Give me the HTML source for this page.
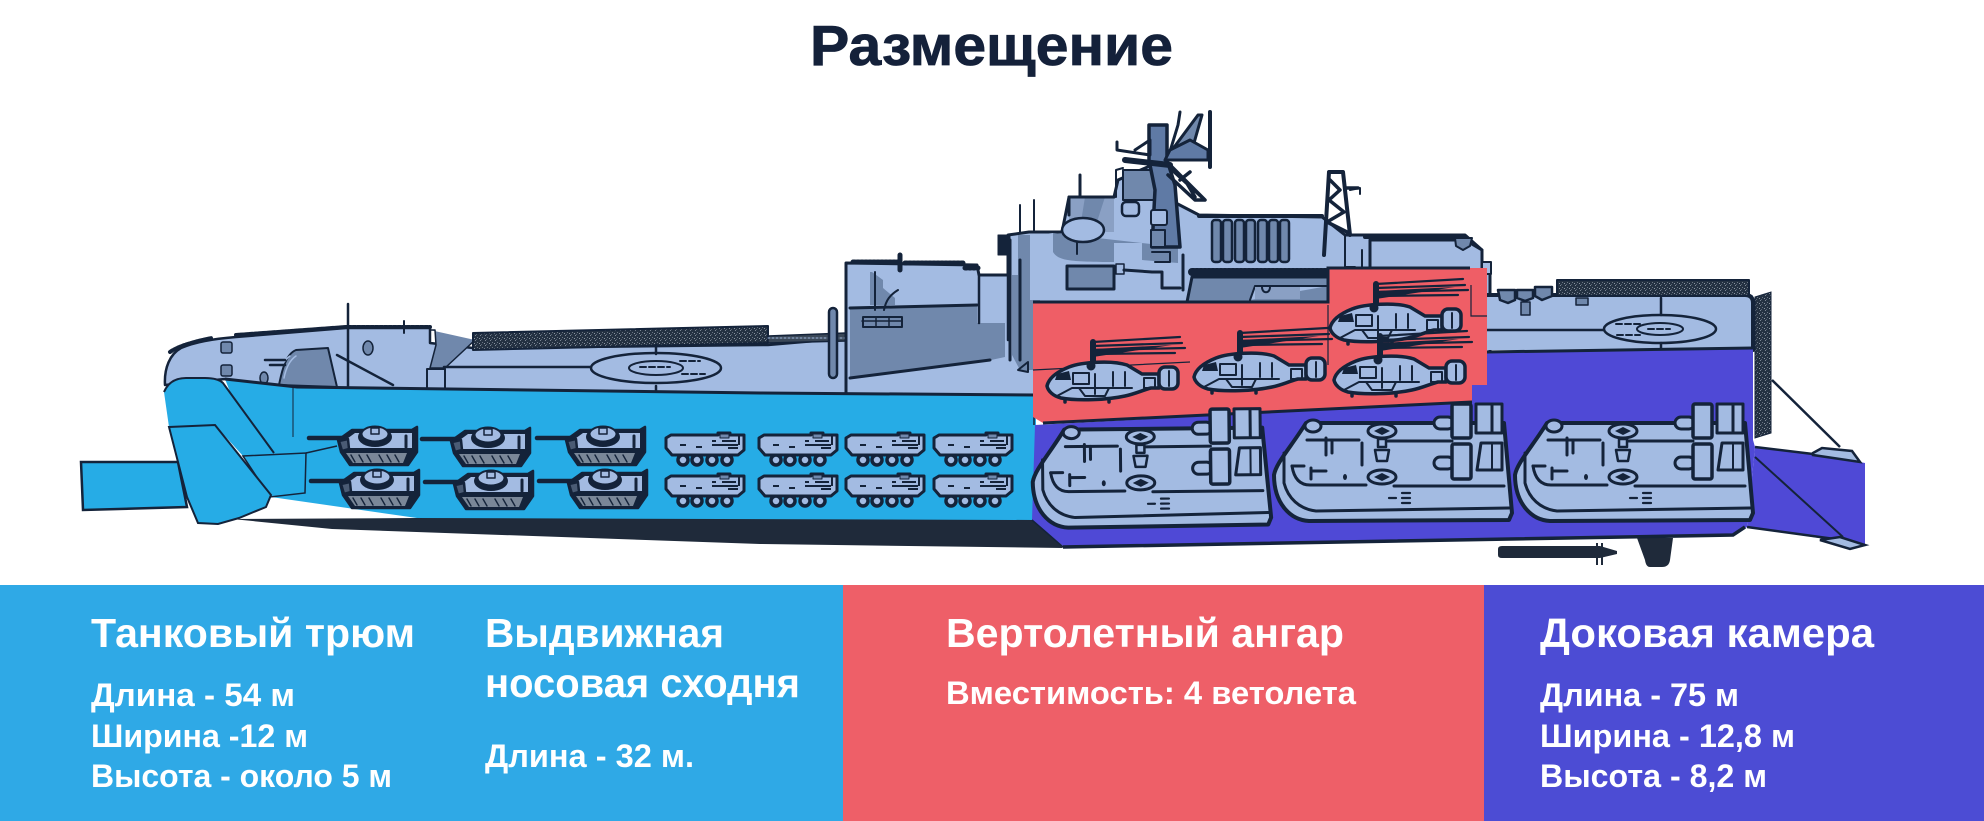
<!DOCTYPE html>
<html><head><meta charset="utf-8"><title>Размещение</title>
<style>html,body{margin:0;padding:0;background:#fff}svg{display:block}text{font-family:"Liberation Sans","Noto Sans CJK SC",sans-serif;font-weight:700}</style></head>
<body>
<svg width="1984" height="821" viewBox="0 0 1984 821" xmlns="http://www.w3.org/2000/svg">
<defs>
<pattern id="net" width="5" height="5" patternUnits="userSpaceOnUse">
 <rect width="5" height="5" fill="#243142"/>
 <rect x="0" y="0" width="1" height="1" fill="#7c8794"/><rect x="2" y="2" width="1" height="1" fill="#6a7583"/><rect x="4" y="3" width="1" height="1" fill="#8a95a2"/><rect x="1" y="4" width="1" height="1" fill="#566272"/>
</pattern>
<symbol id="tank" overflow="visible">
 <g stroke="#14233a" stroke-linejoin="round" stroke-linecap="round">
 <path d="M0 12H34" stroke-width="4.5" fill="none"/>
 <path d="M29 14L43 4H103L108 1V26L99 39H41L32 26Z" fill="#14233a" stroke-width="2.5"/>
 <path d="M35 15L46 7H103V22H40Z" fill="#a3bbe2" stroke="none"/>
 <path d="M37 27H98L94 37H44Z" fill="#7a8798" stroke="none"/>
 <path d="M42 29L46 36M50 29L54 36M58 29L62 36M70 29L74 36M78 29L82 36M86 29L90 36" stroke="#14233a" stroke-width="1.4"/>
 <ellipse cx="66" cy="11" rx="17" ry="10" fill="#14233a" stroke="none"/>
 <ellipse cx="66" cy="8" rx="13.5" ry="7.5" fill="#a3bbe2" stroke="#14233a" stroke-width="2"/>
 <rect x="62" y="2" width="8" height="6" fill="#a3bbe2" stroke-width="1.5"/>
 <path d="M97 10V21" stroke-width="3"/>
 <path d="M30 15L39 13L40 23L33 25Z" fill="#4a5b74" stroke-width="2.5"/>
 </g>
</symbol>
<symbol id="apc" overflow="visible">
 <g stroke="#14233a" stroke-linejoin="round">
 <circle cx="17" cy="27" r="5" fill="#a3bbe2" stroke-width="3.5"/><circle cx="31" cy="27" r="5" fill="#a3bbe2" stroke-width="3.5"/><circle cx="46" cy="27" r="5" fill="#a3bbe2" stroke-width="3.5"/><circle cx="61" cy="27" r="5" fill="#a3bbe2" stroke-width="3.5"/>
 <path d="M0 5L5 2H52V0H64V2H78V17L72 22H6L0 15Z" fill="#a3bbe2" stroke-width="3"/>
 <path d="M54 1H63V5H54Z" fill="#7088ac" stroke-width="1"/>
 <path d="M14 12H20M30 14H36M46 8H50M46 12H72M56 8H70M62 15H72M73 3V12" stroke-width="2" fill="none"/>
 </g>
</symbol>
<symbol id="heli" overflow="visible">
 <g stroke="#14233a" stroke-linejoin="round" stroke-linecap="round">
 <path d="M46 6L133 1M46 10L135 7M46 14L138 12M46 18L128 17" stroke-width="2.2" fill="none"/>
 <path d="M46 13L125 9L46 21Z" fill="#14233a" stroke="none"/>
 <path d="M46 6V28" stroke-width="6"/>
 <path d="M18 61V66M62 61V66" stroke-width="3.5"/>
 <path d="M0 50C2 41 12 35 22 31C35 26 65 24 80 29L95 38H112V52H104C96 54 88 58 78 60C60 64 30 65 14 62C6 60 1 55 0 50Z" fill="#a3bbe2" stroke-width="3.5"/>
 <rect x="112" y="31" width="19" height="22" rx="6" fill="#a3bbe2" stroke-width="3.5"/>
 <circle cx="44" cy="30" r="4.5" fill="#14233a" stroke="none"/>
 <path d="M10 38L22 35L24 44H8Z" fill="#14233a" stroke="none"/>
 <path d="M26 37H42V48H26ZM66 36V50M78 36V50M48 38V58M97 42H108V52H97ZM10 60L25 52H85M32 52L38 60H58L62 52M122 35V50" fill="none" stroke-width="2"/>
 </g>
</symbol>
<symbol id="hover" overflow="visible">
 <g stroke="#14233a" stroke-linejoin="round" stroke-linecap="round">
 <path d="M0 72C2 60 17 44 32 20H230L238 110L235 117L35 118C16 117 0 100 0 72Z" fill="#a3bbe2" stroke-width="4"/>
 <path d="M10 50V80C14 95 25 106 42 108L235 105" fill="none" stroke-width="3"/>
 <path d="M18 63C20 76 26 82 36 82H92M120 83H230" fill="none" stroke-width="3"/>
 <path d="M33 37H85M113 38H178" fill="none" stroke-width="3"/>
 <path d="M52 35V52M58 37V50M88 40V62" fill="none" stroke-width="3"/>
 <path d="M18 63H30M37 65V76M37 68H52" fill="none" stroke-width="3"/>
 <ellipse cx="39" cy="23" rx="8" ry="6" fill="#a3bbe2" stroke-width="3"/>
 <ellipse cx="108" cy="28" rx="14" ry="7" fill="#a3bbe2" stroke-width="3"/><path d="M100 28L108 24L116 28L108 32Z" fill="#14233a" stroke="none"/>
 <ellipse cx="108" cy="74" rx="14" ry="7" fill="#a3bbe2" stroke-width="3"/><path d="M100 74L108 70L116 74L108 78Z" fill="#14233a" stroke="none"/>
 <path d="M101 47H115L113 58H103ZM104 36H112V44H104Z" fill="#a3bbe2" stroke-width="2.5"/>
 <ellipse cx="71" cy="74" rx="2" ry="3" fill="#14233a" stroke="none"/>
 <path d="M115 95H122M128 90H136M128 95H136M128 100H136" fill="none" stroke-width="2.2"/>
 <rect x="160" y="14" width="20" height="12" rx="6" fill="#a3bbe2" stroke-width="3"/>
 <rect x="160" y="54" width="20" height="12" rx="6" fill="#a3bbe2" stroke-width="3"/>
 <rect x="178" y="1" width="19" height="34" rx="2" fill="#a3bbe2" stroke-width="3.5"/>
 <rect x="178" y="41" width="19" height="35" rx="2" fill="#a3bbe2" stroke-width="3.5"/>
 <path d="M202 1H228V30H202ZM218 1V30" fill="#a3bbe2" stroke-width="3"/>
 <path d="M203 67L207 40H228V67Z" fill="#a3bbe2" stroke-width="3"/>
 <path d="M218 40V67" fill="none" stroke-width="2"/>
 </g>
</symbol>
</defs>

<rect width="1984" height="821" fill="#fff"/>
<text x="810" y="65" font-size="57" fill="#14213a" stroke="#14213a" stroke-width="0.8" textLength="363" lengthAdjust="spacingAndGlyphs">Размещение</text>

<g stroke="#14233a" stroke-linejoin="round" stroke-linecap="round">
 <!-- bow deck -->
 <path d="M165 385C164 368 170 354 181 348C195 342 212 339 236 337L346 328H430V343L473 348L768 345L850 338V395H337L225 379Z" fill="#a3bbe2" stroke-width="2.5"/>
 <path d="M170 352C178 346 196 341 212 338M236 335L346 327H430" fill="none" stroke-width="4" stroke-dasharray="3 1.5"/>
 <path d="M279 385C282 370 286 354 296 350L328 348L337 387Z" fill="#7088ac" stroke-width="2"/>
 <path d="M348 304V387" stroke-width="2.5"/>
 <path d="M337 355L393 385" stroke-width="2.5"/>
 <path d="M290 356C284 360 280 368 278 378M296 356C290 360 286 368 284 378" fill="none" stroke="#a3bbe2" stroke-width="1.5"/>
 <path d="M265 360H285M270 365H285" stroke-width="2.5"/>
 <rect x="221" y="342" width="11" height="11" rx="2" fill="#7088ac" stroke-width="1.5"/>
 <rect x="221" y="365" width="11" height="11" rx="2" fill="#7088ac" stroke-width="1.5"/>
 <ellipse cx="368" cy="348" rx="5" ry="7" fill="#7088ac" stroke-width="1.5"/>
 <ellipse cx="264" cy="378" rx="4" ry="6" fill="#7088ac" stroke-width="1.5"/>
 <path d="M404 321V333" stroke-width="2"/>
 <rect x="427" y="369" width="18" height="20" fill="#a3bbe2" stroke-width="2"/>
 <path d="M430 330H435L436 345L430 368H445L475 340" fill="#7088ac" stroke-width="1.5"/>
 <!-- flight deck net -->
 <path d="M473 333L768 326V343L473 350Z" fill="url(#net)" stroke-width="2"/>
 <path d="M768 336L846 333V341L768 343Z" fill="#3a4757" stroke-width="1.5"/>
 <path d="M768 338H846" stroke="#a3bbe2" stroke-width="1" stroke-dasharray="2 2"/>
 <path d="M444 367H591M656 345V354M656 386V394" stroke-width="2.5"/>
 <ellipse cx="656" cy="368" rx="65" ry="15" fill="none" stroke-width="2.5"/>
 <ellipse cx="656" cy="368" rx="27" ry="7" fill="none" stroke-width="2"/>
 <path d="M640 367H670M680 361H700M682 374H705" stroke-width="2" stroke-dasharray="6 3"/>
 <rect x="829" y="308" width="8" height="70" rx="4" fill="#7088ac" stroke-width="2.5"/>

 <!-- superstructure base -->
 <path d="M846 263L977 265L979 275H1008V235L1029 232H1062L1069 197H1114L1118 180L1152 165L1170 200L1199 215L1322 217L1345 235H1465L1482 250V272H1490V395H846Z" fill="#a3bbe2" stroke-width="3"/>
 <path d="M850 308L977 305V323H1005V357L991 360L850 378Z" fill="#7088ac" stroke="none"/>
 <path d="M850 308L977 305M850 378L990 360" fill="none" stroke-width="3"/>
 <path d="M860 272H872L883 280V288L895 298V305H870V272Z" fill="#7088ac" stroke="none"/>
 <path d="M875 272V310M898 290C890 295 886 300 884 310" fill="none" stroke-width="2"/>
 <rect x="863" y="317" width="39" height="10" fill="#7088ac" stroke-width="2"/>
 <path d="M862 321H902M876 317V327M889 317V327" stroke-width="1.5"/>
 <path d="M853 262H900M905 263H965M965 268H978" stroke-width="5" stroke-dasharray="2 2"/>
 <path d="M900 255V270" stroke-width="5"/>
 <path d="M979 275V323M1008 275V340" fill="none" stroke-width="2.5"/>
 <path d="M998 235H1010V255H998Z" fill="#14233a"/>
 <path d="M1018 235H1030V300H1040V370H1020L1012 355V275H1018Z" fill="#7088ac" stroke="none"/>
 <path d="M1010 240V360M1020 260V360" stroke-width="3"/>
 <path d="M1018 370L1028 362V372Z" fill="#7088ac" stroke-width="2"/>
 <path d="M1034 200V232M1020 205V232" stroke-width="2"/>
 <path d="M1053 233V253L1067 262H1114V243H1142L1178 247L1182 267H1152L1150 287H1187V300H1035V235Z" fill="#a3bbe2" stroke="none"/>
 <path d="M1053 233V252C1058 260 1067 262 1114 262V243H1142V260L1178 263V247Z" fill="#7088ac" stroke="none"/>
 <path d="M1069 197H1114V232H1069Z" fill="#8aa0c4" stroke="none"/>
 <path d="M1085 197H1105L1095 228H1080Z" fill="#7088ac" stroke="none"/>
 <ellipse cx="1083" cy="230" rx="21" ry="12" fill="#a3bbe2" stroke-width="2.5"/>
 <path d="M1069 197H1114M1069 197V215M1080 175V197" fill="none" stroke-width="3"/>
 <path d="M1077 242V254" stroke-width="2"/>
 <rect x="1067" y="266" width="47" height="23" fill="#7088ac" stroke-width="3"/>
 <rect x="1116" y="264" width="8" height="10" fill="#a3bbe2" stroke-width="1.5"/>
 <path d="M1124 270L1152 272M1152 272H1162V288H1180M1183 255V290" fill="none" stroke-width="3"/>
 <rect x="1123" y="170" width="36" height="30" fill="#7088ac" stroke-width="2"/>
 <path d="M1116 197V170L1123 168" fill="none" stroke-width="2"/>
 <path d="M1149 125H1167V160L1175 185L1180 247H1152L1155 190L1149 160Z" fill="#5f7aa5" stroke-width="3.5"/>
 <path d="M1125 160L1170 165" stroke-width="6"/>
 <path d="M1117 142V150L1150 155L1150 140L1135 150" fill="none" stroke-width="3"/>
 <path d="M1168 158L1178 125L1180 112M1172 150L1198 115L1202 115L1192 150Z" fill="#7088ac" stroke-width="3"/>
 <path d="M1210 112V167" stroke-width="4"/>
 <path d="M1165 160H1208V150L1190 140L1170 150Z" fill="#5f7aa5" stroke-width="3"/>
 <path d="M1170 165L1205 200H1195L1168 175M1170 168L1205 200M1180 180L1190 172M1195 197L1185 180" fill="none" stroke-width="3.5"/>
 <rect x="1122" y="202" width="17" height="14" rx="4" fill="#a3bbe2" stroke-width="2.5"/>
 <rect x="1151" y="210" width="16" height="15" rx="2" fill="#a3bbe2" stroke-width="2"/>
 <rect x="1151" y="230" width="14" height="17" fill="#7088ac" stroke-width="2"/>
 <path d="M1152 252H1170V262H1155" fill="none" stroke-width="2"/>
 <path d="M1199 216H1322" stroke-width="4"/>
 <g fill="#7088ac" stroke-width="2.5">
 <rect x="1212" y="220" width="9" height="42" rx="3"/><rect x="1223" y="220" width="9" height="42" rx="3"/><rect x="1235" y="220" width="9" height="42" rx="3"/><rect x="1246" y="220" width="9" height="42" rx="3"/><rect x="1258" y="220" width="9" height="42" rx="3"/><rect x="1269" y="220" width="9" height="42" rx="3"/><rect x="1280" y="220" width="9" height="42" rx="3"/>
 </g>
 <path d="M1324 255L1329 172H1343L1350 235" fill="none" stroke-width="4"/>
 <path d="M1329 172H1343M1330 180L1340 190L1329 200L1344 212L1327 222L1347 232M1345 188H1358" fill="none" stroke-width="3.5"/>
 <path d="M1350 190L1360 188V194" fill="none" stroke-width="2"/>
 <path d="M1370 268V240H1465L1482 250V272" fill="#a3bbe2" stroke-width="3"/>
 <path d="M1365 237H1465" stroke-width="4" stroke-dasharray="4 1"/>
 <path d="M1455 238H1472L1470 246L1463 250L1456 246Z" fill="#7088ac" stroke-width="2"/>
 <path d="M1345 235V267H1355M1362 250V267" fill="none" stroke-width="2"/>
 <rect x="1482" y="262" width="9" height="12" fill="#a3bbe2" stroke-width="2"/>
 <path d="M1192 272H1328" stroke-width="8" stroke-dasharray="2 2"/>
 <path d="M1192 277H1328V302H1187Z" fill="#7088ac" stroke-width="3"/>
 <path d="M1250 300L1255 286H1328" fill="#a3bbe2" stroke-width="2"/>
 <path d="M1255 287V299H1300V287Z" fill="#8aa0c4" stroke="none"/>
 <path d="M1262 287C1262 294 1270 294 1270 287" fill="none" stroke-width="2"/>

 <!-- stern deck -->
 <rect x="1487" y="295" width="266" height="55" fill="#a3bbe2" stroke="none"/>
 <path d="M1487 295H1745Q1753 295 1753 303V350" fill="none" stroke-width="4"/>
 <path d="M1557 280H1749V296H1557Z" fill="url(#net)" stroke-width="2"/>
 <path d="M1498 290H1515V300L1508 303L1500 300ZM1517 290H1533V298L1525 301L1517 298ZM1535 287H1552V296L1542 300L1535 296Z" fill="#7088ac" stroke-width="2.5"/>
 <path d="M1521 302H1530V315H1521ZM1576 298H1588V305H1576Z" fill="#7088ac" stroke-width="1.5"/>
 <path d="M1487 330H1604M1661 298V315M1661 343V350" stroke-width="2.5"/>
 <ellipse cx="1660" cy="329" rx="56" ry="14" fill="none" stroke-width="2.5"/>
 <ellipse cx="1660" cy="329" rx="23" ry="6" fill="none" stroke-width="2"/>
 <path d="M1648 329H1670M1616 324H1640M1617 335H1640" stroke-width="2" stroke-dasharray="6 3"/>
</g>

<!-- stern wing -->
<path d="M1755 447L1813 453L1865 463V545L1747 527Z" fill="#4f49d6"/>
<path d="M1755 447L1813 454M1747 527L1842 540" stroke="#14233a" stroke-width="2.5" fill="none"/>
<path d="M1755 457L1843 537" stroke="#14233a" stroke-width="2" fill="none"/>
<path d="M1772 380L1840 447" stroke="#14233a" stroke-width="2.5"/>
<path d="M1813 453L1822 448L1852 451L1860 462L1813 455Z" fill="#a3bbe2" stroke="#14233a" stroke-width="2.5"/>
<path d="M1820 540L1840 537L1865 545L1850 549Z" fill="#a3bbe2" stroke="#14233a" stroke-width="2.5"/>
<path d="M1755 297L1771 292V433L1755 438Z" fill="url(#net)" stroke="#14233a" stroke-width="1"/>

<!-- keel -->
<path d="M232 519L417 518H1032L1063 548L760 544L332 529Z" fill="#1f2a3a"/>
<path d="M1637 538H1673L1670 560Q1669 567 1662 567H1650Q1646 567 1645 560Z" fill="#1f2a3a"/>
<path d="M1498 549Q1498 546 1502 546H1600L1617 551V554L1600 558H1502Q1498 558 1498 555Z" fill="#1f2a3a"/>
<path d="M1597 543V565M1602 543V565" stroke="#1f2a3a" stroke-width="2"/>

<!-- blue hull -->
<path d="M225 379L297 387L337 387L760 393L1036 395V520L417 518L271 497Z" fill="#26ace6"/>
<path d="M225 379L297 387L760 393L1036 395" stroke="#14233a" stroke-width="3" fill="none"/>
<path d="M293 387V437" stroke="#14233a" stroke-width="1"/>
<path d="M1034 395V425" stroke="#14233a" stroke-width="1.5"/>
<!-- ramp & door -->
<path d="M81 462H178L187 507L83 510Z" fill="#26ace6" stroke="#14233a" stroke-width="2.5"/>
<path d="M164 392Q170 378 186 378H205Q218 378 223 383L274 453L243 456L215 425L169 427Z" fill="#26ace6"/>
<path d="M164 392Q170 378 186 378H205Q218 378 223 383L274 453" fill="none" stroke="#14233a" stroke-width="2"/>
<path d="M243 456L306 453L305 493L270 497Z" fill="#26ace6" stroke="#14233a" stroke-width="1.5"/>
<path d="M306 453L337 446" stroke="#14233a" stroke-width="1.5"/>
<path d="M169 427L215 425L271 495L266 507L239 518L218 524L198 523L187 497Z" fill="#26ace6" stroke="#14233a" stroke-width="2"/>

<!-- purple hull -->
<path d="M1035 425L1470 402V385H1487V352L1753 348V440L1755 447L1747 527L1733 535L1063 546L1032 520Z" fill="#4f49d6"/>
<path d="M1487 352L1753 348" stroke="#14233a" stroke-width="3" fill="none"/>
<path d="M1063 547L1733 535L1745 527" stroke="#14233a" stroke-width="3.5" fill="none"/>
<path d="M1032 520L1063 547" stroke="#14233a" stroke-width="1.5" fill="none"/>

<!-- red hangar -->
<path d="M1033 302H1328V268H1487V385H1472V402L1043 423L1033 417Z" fill="#ef5e66"/>
<path d="M1033 302H1328V268H1470" fill="none" stroke="#14233a" stroke-width="3"/>
<path d="M1043 423L1472 402" stroke="#14233a" stroke-width="3" fill="none"/>
<path d="M1328 305V345M1328 345V365M1033 370L1190 362M1471 285V316H1487" stroke="#14233a" stroke-width="1.2" fill="none"/>

<use href="#heli" x="1047" y="336"/>
<use href="#heli" x="1194" y="327"/>
<use href="#heli" x="1330" y="278"/>
<use href="#heli" x="1334" y="330"/>

<use href="#hover" transform="translate(1032 410) rotate(-0.6)"/>
<use href="#hover" transform="translate(1274 403)"/>
<use href="#hover" transform="translate(1515 403)"/>

<use href="#tank" x="309" y="426"/><use href="#tank" x="422" y="427"/><use href="#tank" x="537" y="426"/>
<use href="#tank" x="311" y="469"/><use href="#tank" x="425" y="470"/><use href="#tank" x="539" y="469"/>
<use href="#apc" x="666" y="433"/><use href="#apc" x="759" y="433"/><use href="#apc" x="846" y="433"/><use href="#apc" x="934" y="433"/>
<use href="#apc" x="666" y="474"/><use href="#apc" x="759" y="474"/><use href="#apc" x="846" y="474"/><use href="#apc" x="934" y="474"/>

<rect x="0" y="585" width="843" height="236" fill="#2fa9e6"/>
<rect x="843" y="585" width="641" height="236" fill="#ee5f68"/>
<rect x="1484" y="585" width="500" height="236" fill="#4c4cd4"/>
<g fill="#fff">
 <g font-size="41">
 <text x="91" y="647" textLength="324" lengthAdjust="spacingAndGlyphs">Танковый трюм</text>
 <text x="485" y="647" textLength="239" lengthAdjust="spacingAndGlyphs">Выдвижная</text>
 <text x="485" y="697" textLength="315" lengthAdjust="spacingAndGlyphs">носовая сходня</text>
 <text x="946" y="647" textLength="398" lengthAdjust="spacingAndGlyphs">Вертолетный ангар</text>
 <text x="1540" y="647" textLength="334" lengthAdjust="spacingAndGlyphs">Доковая камера</text>
 </g>
 <g font-size="32">
 <text x="91" y="706" textLength="204" lengthAdjust="spacingAndGlyphs">Длина - 54 м</text>
 <text x="91" y="747" textLength="217" lengthAdjust="spacingAndGlyphs">Ширина -12 м</text>
 <text x="91" y="787" textLength="301" lengthAdjust="spacingAndGlyphs">Высота - около 5 м</text>
 <text x="485" y="767" textLength="209" lengthAdjust="spacingAndGlyphs">Длина - 32 м.</text>
 <text x="946" y="704" textLength="410" lengthAdjust="spacingAndGlyphs">Вместимость: 4 ветолета</text>
 <text x="1540" y="706" textLength="199" lengthAdjust="spacingAndGlyphs">Длина - 75 м</text>
 <text x="1540" y="747" textLength="255" lengthAdjust="spacingAndGlyphs">Ширина - 12,8 м</text>
 <text x="1540" y="787" textLength="227" lengthAdjust="spacingAndGlyphs">Высота - 8,2 м</text>
 </g>
</g>
</svg>
</body></html>
